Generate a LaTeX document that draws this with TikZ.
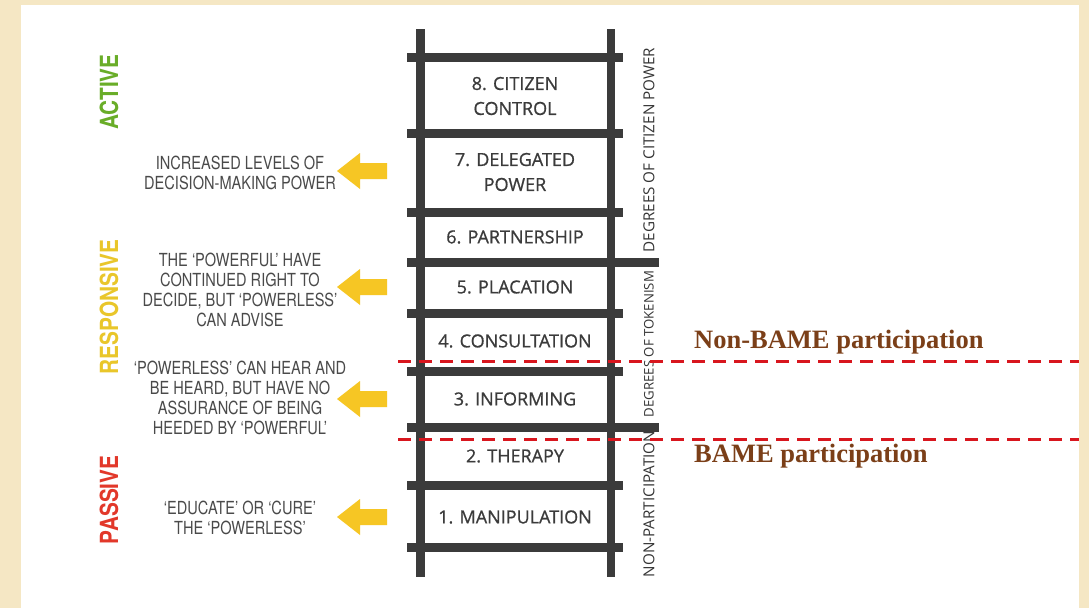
\documentclass[tikz,border=0pt]{standalone}
\usepackage{fontspec}
\setmainfont{Open Sans}
\newfontfamily\ladderfont[FakeBold=0.8]{Open Sans}
\newfontfamily\condfont[FakeStretch=0.81]{TeX Gyre Heros}
\newfontfamily\headfont[FakeStretch=0.83]{TeX Gyre Heros}
\newfontfamily\bamefont{Liberation Serif}

\definecolor{paper}{HTML}{F5E7C4}
\definecolor{ladder}{HTML}{3B3B3B}
\definecolor{txtgray}{HTML}{4A4A4A}
\definecolor{activegreen}{HTML}{69AD28}
\definecolor{respyellow}{HTML}{E9C62A}
\definecolor{passred}{HTML}{E2382A}
\definecolor{arrowyellow}{HTML}{F6C624}
\definecolor{dashred}{HTML}{D8161E}
\definecolor{bamebrown}{HTML}{7B3F18}

\tikzset{
  rung label/.style={align=center, text=ladder, font=\ladderfont\fontsize{18}{25}\selectfont, inner sep=0pt},
  side label/.style={rotate=90, text=ladder!90!black, inner sep=0pt},
  level label/.style={rotate=90, font=\headfont\bfseries\fontsize{25}{26}\selectfont, inner sep=0pt},
  note label/.style={align=center, text=txtgray, font=\condfont\fontsize{18}{20}\selectfont, inner sep=0pt},
  bame label/.style={anchor=west, text=bamebrown, font=\bamefont\bfseries\fontsize{26.5}{28}\selectfont, inner sep=0pt},
  dashline/.style={dashred, line width=3pt, dash pattern=on 13pt off 8pt}
}

\begin{document}
\begin{tikzpicture}[x=1pt,y=-1pt]
  \useasboundingbox (0,0) rectangle (1089,608);
  \fill[paper] (0,0) rectangle (1089,608);
  \fill[white] (21,5) rectangle (1079,608);

  \def\railw{4.2}
  \def\rungw{4.5}

  \foreach \x in {420.5,611} {
    \fill[ladder] (\x-\railw,29) rectangle (\x+\railw,577);
  }
  \foreach \y in {57,133,212,313,371,485,547} {
    \fill[ladder] (407,\y-\rungw) rectangle (623,\y+\rungw);
  }
  \foreach \y in {262,427} {
    \fill[ladder] (407,\y-\rungw) rectangle (659,\y+\rungw);
  }

  \node[rung label] (r8) at (515,96) {8. CITIZEN\\CONTROL};
  \node[rung label] (r7) at (515,172) {7. DELEGATED\\POWER};
  \node[rung label] (r6) at (515,237) {6. PARTNERSHIP};
  \node[rung label] (r5) at (515,287) {5. PLACATION};
  \node[rung label] (r4) at (515,341) {4. CONSULTATION};
  \node[rung label] (r3) at (515,399) {3. INFORMING};
  \node[rung label] (r2) at (515,456) {2. THERAPY};
  \node[rung label] (r1) at (515,517) {1. MANIPULATION};

  \node[side label, font=\fontsize{15.2}{16}\selectfont] (citpower) at (649,150) {DEGREES OF CITIZEN POWER};
  \node[side label, font=\fontsize{13.2}{16}\selectfont] (tokenism) at (649,344) {DEGREES OF TOKENISM};
  \node[side label, font=\fontsize{15.2}{16}\selectfont] (nonpart) at (649,504) {NON-PARTICIPATION};

  \node[level label, text=activegreen] (active) at (109,92) {ACTIVE};
  \node[level label, text=respyellow] (responsive) at (109,307) {RESPONSIVE};
  \node[level label, text=passred] (passive) at (109,500) {PASSIVE};

  \node[note label] (d1) at (240,173) {INCREASED LEVELS OF\\DECISION-MAKING POWER};
  \node[note label] (d2) at (240,290) {THE ‘POWERFUL’ HAVE\\CONTINUED RIGHT TO\\DECIDE, BUT ‘POWERLESS’\\CAN ADVISE};
  \node[note label] (d3) at (240,398) {‘POWERLESS’ CAN HEAR AND\\BE HEARD, BUT HAVE NO\\ASSURANCE OF BEING\\HEEDED BY ‘POWERFUL’};
  \node[note label] (d4) at (240,518) {‘EDUCATE’ OR ‘CURE’\\THE ‘POWERLESS’};

  \foreach \y in {171,287,399,517} {
    \fill[arrowyellow] (337,\y) -- (360,\y-18) -- (360,\y-8) -- (387,\y-8)
      -- (387,\y+8) -- (360,\y+8) -- (360,\y+18) -- cycle;
  }

  \coordinate (upper-l) at (398,361);
  \coordinate (upper-r) at (1079,361);
  \coordinate (lower-l) at (398,439);
  \coordinate (lower-r) at (1079,439);
  \draw[dashline] (upper-l) -- (upper-r);
  \draw[dashline] (lower-l) -- (lower-r);

  \node[bame label] (nonbame) at (694,342) {Non-BAME participation};
  \node[bame label] (bame) at (694,456) {BAME participation};
\end{tikzpicture}
\end{document}
